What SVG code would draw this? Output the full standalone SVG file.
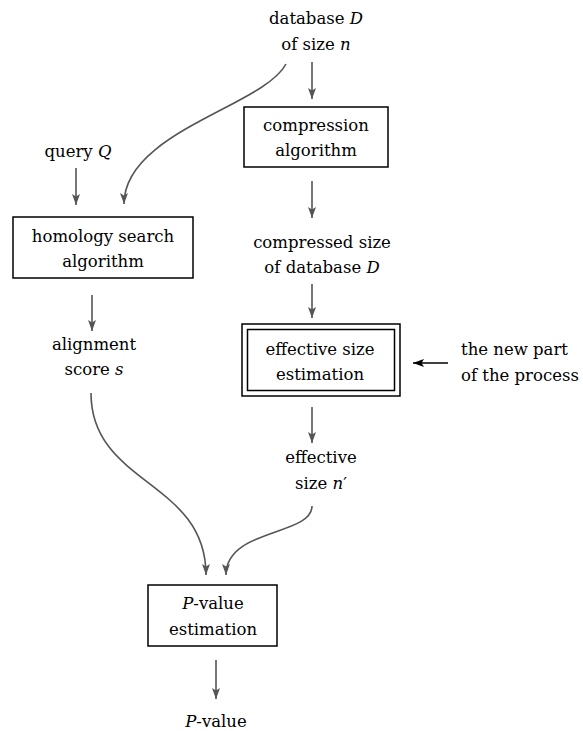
<svg xmlns="http://www.w3.org/2000/svg" width="583" height="731" viewBox="0 0 583 731">
<style>
text{font-family:'DejaVu Serif',serif;font-size:16.5px;fill:#000;text-anchor:middle}
.l{text-anchor:start}
.i{font-style:italic}
.box{fill:#fff;stroke:#000;stroke-width:1.5}
.c{fill:none;stroke:#555;stroke-width:1.6}
.k{fill:none;stroke:#000;stroke-width:1.6}
</style>
<defs>
<marker id="ah" markerWidth="12" markerHeight="10" refX="11" refY="4" orient="auto" markerUnits="userSpaceOnUse">
<path d="M0,0 L11,4 L0,8 L2.5,4 z" fill="#555"/>
</marker>
<marker id="ahk" markerWidth="12" markerHeight="10" refX="11" refY="4" orient="auto" markerUnits="userSpaceOnUse">
<path d="M0,0 L11,4 L0,8 L2.5,4 z" fill="#000"/>
</marker>
</defs>
<g id="connectors">
<path class="c" d="M312,62 L312,99" marker-end="url(#ah)"/>
<path class="c" d="M312,181 L312,218" marker-end="url(#ah)"/>
<path class="c" d="M312,284 L312,318" marker-end="url(#ah)"/>
<path class="c" d="M312,407 L312,443" marker-end="url(#ah)"/>
<path class="c" d="M76,168 L76,205" marker-end="url(#ah)"/>
<path class="c" d="M92,295 L92,331" marker-end="url(#ah)"/>
<path class="c" d="M216,660 L216,699" marker-end="url(#ah)"/>
<path class="c" d="M286,64 C264,106 124,132 124,204" marker-end="url(#ah)"/>
<path class="c" d="M91,393 C91,485 206,480 206,575" marker-end="url(#ah)"/>
<path class="c" d="M312,506 C312,536 226,528 226,575" marker-end="url(#ah)"/>
<path class="k" d="M448,363 L413,363" marker-end="url(#ahk)"/>
</g>
<g id="database">
<text x="316" y="24">database <tspan class="i">D</tspan></text>
<text x="316" y="50">of size <tspan class="i">n</tspan></text>
</g>
<g id="compression">
<rect class="box" x="244" y="107" width="144" height="60"/>
<text x="316" y="131">compression</text>
<text x="316" y="156">algorithm</text>
</g>
<g id="query">
<text x="78" y="157">query  <tspan class="i">Q</tspan></text>
</g>
<g id="homology">
<rect class="box" x="13" y="217" width="180" height="61"/>
<text x="103" y="242">homology search</text>
<text x="103" y="267">algorithm</text>
</g>
<g id="compressed">
<text x="322" y="248">compressed size</text>
<text x="322" y="273">of database <tspan class="i">D</tspan></text>
</g>
<g id="alignment">
<text x="94" y="350">alignment</text>
<text x="94" y="375">score <tspan class="i">s</tspan></text>
</g>
<g id="effective-estimation">
<rect class="box" x="242" y="324" width="158" height="72"/>
<rect class="box" x="247.5" y="329.5" width="147" height="61"/>
<text x="320" y="355">effective size</text>
<text x="320" y="380">estimation</text>
</g>
<g id="new-part">
<text class="l" x="461" y="355">the new part</text>
<text class="l" x="461" y="381">of the process</text>
</g>
<g id="effective-size">
<text x="321" y="463">effective</text>
<text x="321" y="489">size <tspan class="i">n</tspan>′</text>
</g>
<g id="pvalue-estimation">
<rect class="box" x="148" y="585" width="129" height="61"/>
<text x="213" y="609"><tspan class="i">P</tspan>-value</text>
<text x="213" y="635">estimation</text>
</g>
<g id="pvalue">
<text x="216" y="727"><tspan class="i">P</tspan>-value</text>
</g>
</svg>
